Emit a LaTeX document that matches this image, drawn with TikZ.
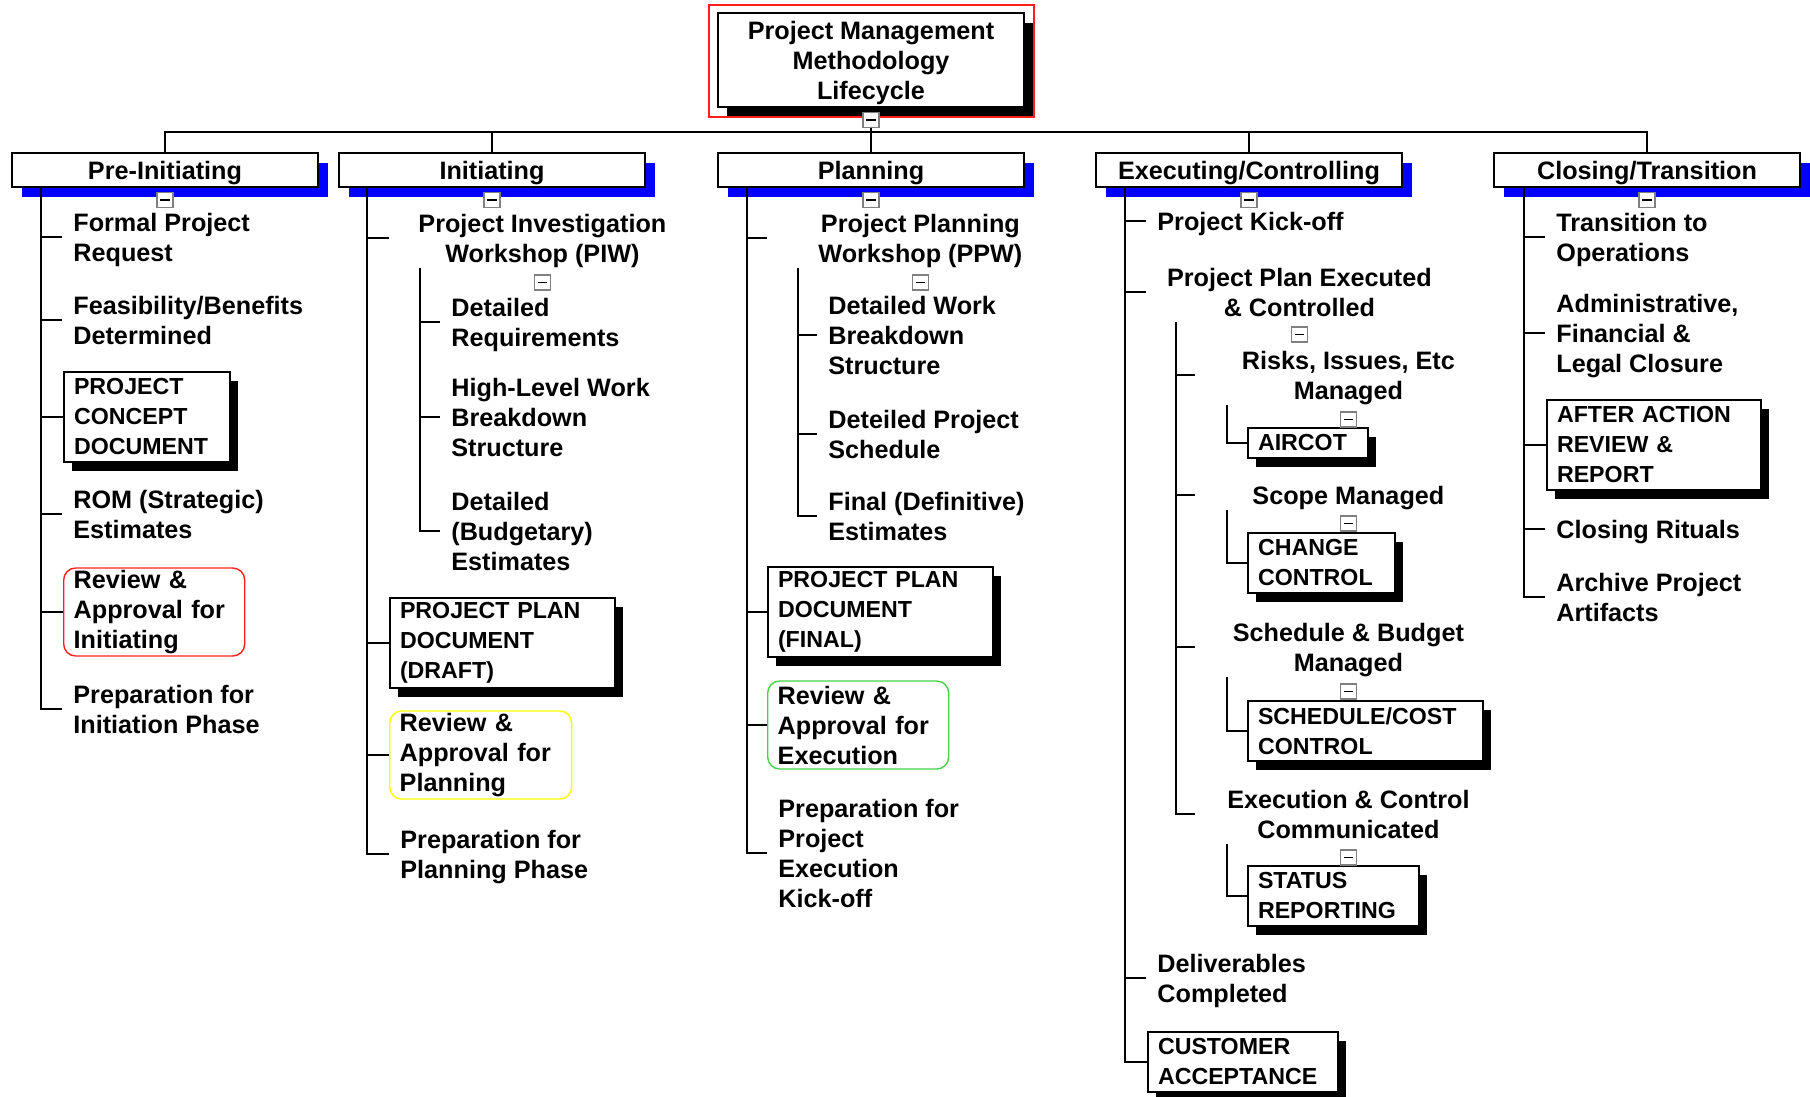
\documentclass[tikz,border=0pt]{standalone}
\usepackage{fontspec}
\setmainfont{Liberation Sans}
\usetikzlibrary{shadows}
\definecolor{bb}{RGB}{0,0,255}
\definecolor{rr}{RGB}{255,30,30}
\definecolor{yy}{RGB}{255,255,0}
\definecolor{gg}{RGB}{70,210,70}
\def\rowh{15pt}
\newcommand{\labelfont}{\bfseries\fontsize{12.6}{15}\selectfont}
\newcommand{\capsfont}{\bfseries\fontsize{11.6}{15}\selectfont}
\tikzset{
  wire/.style={line width=1pt},
  root/.style={draw,line width=1pt,fill=white,minimum width=153pt,minimum height=47pt,inner sep=0pt,align=center,text depth=0pt,font=\labelfont,
    drop shadow={shadow xshift=4.5pt,shadow yshift=-5pt,fill=black,opacity=1}},
  phase/.style={draw,line width=1pt,fill=white,minimum width=153pt,minimum height=17pt,inner sep=0pt,text depth=0pt,font=\labelfont,
    drop shadow={shadow xshift=5pt,shadow yshift=-5pt,fill=bb,opacity=1}},
  leaf/.style={anchor=west,align=left,inner xsep=5.5pt,inner ysep=0pt,text depth=0pt,font=\labelfont},
  hub/.style={anchor=west,align=center,inner sep=0pt,minimum width=153pt,minimum height=#1*\rowh,text depth=0pt,font=\labelfont},
  hub/.default=2,
  docbox/.style={anchor=west,draw,line width=1pt,fill=white,align=left,inner xsep=5pt,inner ysep=0pt,font=\capsfont,
    drop shadow={shadow xshift=4pt,shadow yshift=-4.5pt,fill=black,opacity=1}},
  gate/.style={anchor=west,draw=#1,line width=0.7pt,rounded corners=6pt,align=left,inner xsep=5pt,inner ysep=0pt,minimum height=44pt,font=\labelfont},
  togg/.style={draw=gray,fill=white,line width=0.6pt,minimum width=8pt,minimum height=7.5pt,inner sep=0pt,
    path picture={\draw[black,line width=0.9pt] ([xshift=-2.3pt]path picture bounding box.center) -- ([xshift=2.3pt]path picture bounding box.center);}}
}
\newcommand{\phasenode}[4]{\node[phase] (#3) at (#1,#2) {#4};}
\newcommand{\leafnode}[4]{\node[leaf] (#3) at (#1,#2) {#4};}
\newcommand{\hubnode}[5]{\node[hub=#4] (#3) at (#1,#2) {#5};}
\newcommand{\docnode}[6]{\node[docbox,text width=#4,minimum height=#5*\rowh] (#3) at (#1,#2) {#6};}
\newcommand{\gatenode}[6]{\node[gate=#4,text width=#5] (#3) at (#1,#2) {#6};}
\newcommand{\togglenode}[2]{\node[togg] (#1t) at ([yshift=-#2]#1.south) {};}

\begin{document}
\begin{tikzpicture}[x=0.5pt,y=-0.5pt]
\useasboundingbox (0,0) rectangle (1810,1097);

\node[root] (top) at (871,60) {Project Management\\Methodology\\Lifecycle};
\draw[rr,line width=0.7pt] ([shift={(-4pt,3.5pt)}]top.north west) rectangle ([shift={(4.5pt,-4.5pt)}]top.south east);

\phasenode{165}{170}{pre}{Pre-Initiating}
\phasenode{492}{170}{ini}{Initiating}
\phasenode{871}{170}{pla}{Planning}
\phasenode{1249}{170}{exe}{Executing/Controlling}
\phasenode{1647}{170}{clo}{Closing/Transition}

\leafnode{62}{237}{pre1}{Formal Project\\Request}
\leafnode{62}{320}{pre2}{Feasibility/Benefits\\Determined}
\docnode{63}{417}{pre3}{73pt}{3}{PROJECT\\CONCEPT\\DOCUMENT}
\leafnode{62}{514}{pre4}{ROM (Strategic)\\Estimates}
\gatenode{63}{612}{pre5}{rr}{80.5pt}{Review \&\\Approval for\\Initiating}
\leafnode{62}{709}{pre6}{Preparation for\\Initiation Phase}

\hubnode{389}{238}{piw}{2}{Project Investigation\\Workshop (PIW)}
\leafnode{440}{322}{ini1}{Detailed\\Requirements}
\leafnode{440}{417}{ini2}{High-Level Work\\Breakdown\\Structure}
\leafnode{440}{531}{ini3}{Detailed\\(Budgetary)\\Estimates}
\docnode{389}{643}{ini4}{102.5pt}{3}{PROJECT PLAN\\DOCUMENT\\(DRAFT)}
\gatenode{389}{755}{ini5}{yy}{81pt}{Review \&\\Approval for\\Planning}
\leafnode{389}{854}{ini6}{Preparation for\\Planning Phase}

\hubnode{767}{238}{ppw}{2}{Project Planning\\Workshop (PPW)}
\leafnode{817}{335}{pla1}{Detailed Work\\Breakdown\\Structure}
\leafnode{817}{434}{pla2}{Deteiled Project\\Schedule}
\leafnode{817}{516}{pla3}{Final (Definitive)\\Estimates}
\docnode{767}{612}{pla4}{102.5pt}{3}{PROJECT PLAN\\DOCUMENT\\(FINAL)}
\gatenode{767}{725}{pla5}{gg}{80.5pt}{Review \&\\Approval for\\Execution}
\leafnode{767}{853}{pla6}{Preparation for\\Project\\Execution\\Kick-off}

\leafnode{1146}{221}{exe1}{Project Kick-off}
\hubnode{1146}{292}{ppe}{2}{Project Plan Executed\\\& Controlled}
\hubnode{1195}{375}{rim}{2}{Risks, Issues, Etc\\Managed}
\docnode{1247}{443}{air}{50pt}{1}{AIRCOT}
\hubnode{1195}{495}{scm}{1}{Scope Managed}
\docnode{1247}{563}{chg}{63.5pt}{2}{CHANGE\\CONTROL}
\hubnode{1195}{647}{sbm}{2}{Schedule \& Budget\\Managed}
\docnode{1247}{731}{scc}{107.5pt}{2}{SCHEDULE/COST\\CONTROL}
\hubnode{1195}{814}{ecc}{2}{Execution \& Control\\Communicated}
\docnode{1247}{896}{sts}{75.5pt}{2}{STATUS\\REPORTING}
\leafnode{1146}{978}{exe2}{Deliverables\\Completed}
\docnode{1147}{1062}{exe3}{85pt}{2}{CUSTOMER\\ACCEPTANCE}

\leafnode{1545}{237}{clo1}{Transition to\\Operations}
\leafnode{1545}{333}{clo2}{Administrative,\\Financial \&\\Legal Closure}
\docnode{1546}{445}{clo3}{97pt}{3}{AFTER ACTION\\REVIEW \&\\REPORT}
\leafnode{1545}{529}{clo4}{Closing Rituals}
\leafnode{1545}{597}{clo5}{Archive Project\\Artifacts}

\coordinate (bus) at (871,132);
\draw[wire] (top.south) -- (bus) -| (pre.north);
\draw[wire] (top.south) -- (bus) -| (ini.north);
\draw[wire] (top.south) -- (bus) -| (pla.north);
\draw[wire] (top.south) -- (bus) -| (exe.north);
\draw[wire] (top.south) -- (bus) -| (clo.north);

\draw[wire] ([xshift=15pt]pre.south west) |- (pre1.west);
\draw[wire] ([xshift=15pt]pre.south west) |- (pre2.west);
\draw[wire] ([xshift=15pt]pre.south west) |- (pre3.west);
\draw[wire] ([xshift=15pt]pre.south west) |- (pre4.west);
\draw[wire] ([xshift=15pt]pre.south west) |- (pre5.west);
\draw[wire] ([xshift=15pt]pre.south west) |- (pre6.west);

\draw[wire] ([xshift=14.5pt]ini.south west) |- (piw.west);
\draw[wire] ([xshift=14.5pt]ini.south west) |- (ini4.west);
\draw[wire] ([xshift=14.5pt]ini.south west) |- (ini5.west);
\draw[wire] ([xshift=14.5pt]ini.south west) |- (ini6.west);
\draw[wire] ([xshift=15.5pt]piw.south west) |- (ini1.west);
\draw[wire] ([xshift=15.5pt]piw.south west) |- (ini2.west);
\draw[wire] ([xshift=15.5pt]piw.south west) |- (ini3.west);

\draw[wire] ([xshift=15pt]pla.south west) |- (ppw.west);
\draw[wire] ([xshift=15pt]pla.south west) |- (pla4.west);
\draw[wire] ([xshift=15pt]pla.south west) |- (pla5.west);
\draw[wire] ([xshift=15pt]pla.south west) |- (pla6.west);
\draw[wire] ([xshift=15.5pt]ppw.south west) |- (pla1.west);
\draw[wire] ([xshift=15.5pt]ppw.south west) |- (pla2.west);
\draw[wire] ([xshift=15.5pt]ppw.south west) |- (pla3.west);

\draw[wire] ([xshift=15pt]exe.south west) |- (exe1.west);
\draw[wire] ([xshift=15pt]exe.south west) |- (ppe.west);
\draw[wire] ([xshift=15pt]exe.south west) |- (exe2.west);
\draw[wire] ([xshift=15pt]exe.south west) |- (exe3.west);
\draw[wire] ([xshift=15pt]ppe.south west) |- (rim.west);
\draw[wire] ([xshift=15pt]ppe.south west) |- (scm.west);
\draw[wire] ([xshift=15pt]ppe.south west) |- (sbm.west);
\draw[wire] ([xshift=15pt]ppe.south west) |- (ecc.west);
\draw[wire] ([xshift=16pt]rim.south west) |- (air.west);
\draw[wire] ([xshift=16pt]scm.south west) |- (chg.west);
\draw[wire] ([xshift=16pt]sbm.south west) |- (scc.west);
\draw[wire] ([xshift=16pt]ecc.south west) |- (sts.west);

\draw[wire] ([xshift=15.5pt]clo.south west) |- (clo1.west);
\draw[wire] ([xshift=15.5pt]clo.south west) |- (clo2.west);
\draw[wire] ([xshift=15.5pt]clo.south west) |- (clo3.west);
\draw[wire] ([xshift=15.5pt]clo.south west) |- (clo4.west);
\draw[wire] ([xshift=15.5pt]clo.south west) |- (clo5.west);

\togglenode{top}{6pt}
\togglenode{pre}{6pt}
\togglenode{ini}{6pt}
\togglenode{pla}{6pt}
\togglenode{exe}{6pt}
\togglenode{clo}{6pt}
\togglenode{piw}{7pt}
\togglenode{ppw}{7pt}
\togglenode{ppe}{6pt}
\togglenode{rim}{7pt}
\togglenode{scm}{6.5pt}
\togglenode{sbm}{7pt}
\togglenode{ecc}{6.5pt}
\end{tikzpicture}
\end{document}
